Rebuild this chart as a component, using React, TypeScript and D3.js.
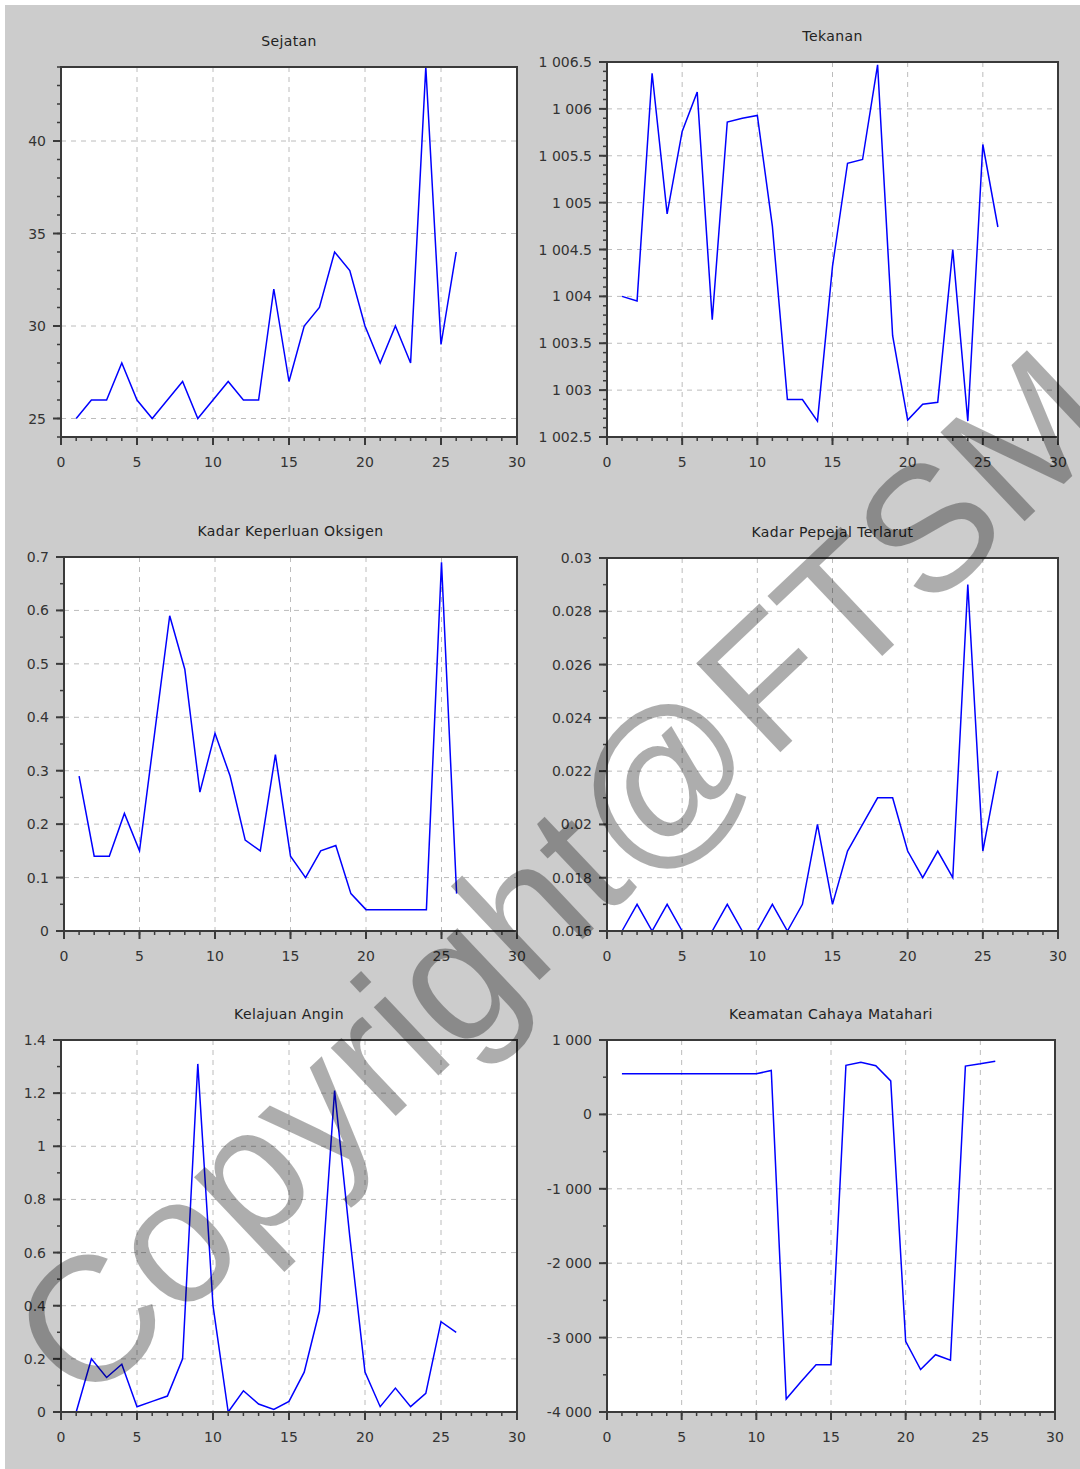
import React, { useRef, useEffect } from "react";
import * as d3 from "d3";

// day index for every series
const hari = [1, 2, 3, 4, 5, 6, 7, 8, 9, 10, 11, 12, 13, 14, 15, 16, 17, 18, 19, 20, 21, 22, 23, 24, 25, 26];

const sejatan = [25, 26, 26, 28, 26, 25, 26, 27, 25, 26, 27, 26, 26, 32, 27, 30, 31, 34, 33, 30, 28, 30, 28, 44, 29, 34];
const tekanan = [
  1004.0, 1003.95, 1006.38, 1004.88, 1005.76, 1006.18, 1003.75, 1005.86, 1005.9, 1005.93, 1004.75, 1002.9, 1002.9,
  1002.67, 1004.32, 1005.42, 1005.46, 1006.47, 1003.58, 1002.68, 1002.85, 1002.87, 1004.5, 1002.67, 1005.62, 1004.74,
];
const oksigen = [
  0.29, 0.14, 0.14, 0.22, 0.15, 0.37, 0.59, 0.49, 0.26, 0.37, 0.29, 0.17, 0.15, 0.33, 0.14, 0.1, 0.15, 0.16, 0.07, 0.04,
  0.04, 0.04, 0.04, 0.04, 0.69, 0.07,
];
const pepejal = [
  0.016, 0.017, 0.016, 0.017, 0.016, 0.016, 0.016, 0.017, 0.016, 0.016, 0.017, 0.016, 0.017, 0.02, 0.017, 0.019, 0.02,
  0.021, 0.021, 0.019, 0.018, 0.019, 0.018, 0.029, 0.019, 0.022,
];
const angin = [
  0, 0.2, 0.13, 0.18, 0.02, 0.04, 0.06, 0.2, 1.31, 0.4, 0, 0.08, 0.03, 0.01, 0.04, 0.15, 0.38, 1.21, 0.66, 0.15, 0.02,
  0.09, 0.02, 0.07, 0.34, 0.3,
];
const cahaya = [
  545, 545, 545, 545, 545, 545, 545, 545, 545, 545, 590, -3825, -3590, -3365, -3365, 660, 700, 655, 450, -3050, -3430,
  -3230, -3305, 650, 680, 715,
];

// tick values and their labels
const xTicks = [0, 5, 10, 15, 20, 25, 30];
const xLabels = ["0", "5", "10", "15", "20", "25", "30"];
const sejatanTicks = [25, 30, 35, 40];
const sejatanLabels = ["25", "30", "35", "40"];
const tekananTicks = [1002.5, 1003, 1003.5, 1004, 1004.5, 1005, 1005.5, 1006, 1006.5];
const tekananLabels = ["1 002.5", "1 003", "1 003.5", "1 004", "1 004.5", "1 005", "1 005.5", "1 006", "1 006.5"];
const oksigenTicks = [0, 0.1, 0.2, 0.3, 0.4, 0.5, 0.6, 0.7];
const oksigenLabels = ["0", "0.1", "0.2", "0.3", "0.4", "0.5", "0.6", "0.7"];
const pepejalTicks = [0.016, 0.018, 0.02, 0.022, 0.024, 0.026, 0.028, 0.03];
const pepejalLabels = ["0.016", "0.018", "0.02", "0.022", "0.024", "0.026", "0.028", "0.03"];
const anginTicks = [0, 0.2, 0.4, 0.6, 0.8, 1, 1.2, 1.4];
const anginLabels = ["0", "0.2", "0.4", "0.6", "0.8", "1", "1.2", "1.4"];
const cahayaTicks = [-4000, -3000, -2000, -1000, 0, 1000];
const cahayaLabels = ["-4 000", "-3 000", "-2 000", "-1 000", "0", "1 000"];

const W = 1080;
const H = 1469;

const panels = [
  { title: "Sejatan", values: sejatan, yDomain: [24, 44], ticks: sejatanTicks, labels: sejatanLabels, minor: 1, box: { l: 61, r: 517, t: 67, b: 437 }, titleY: 41 },
  { title: "Tekanan", values: tekanan, yDomain: [1002.5, 1006.5], ticks: tekananTicks, labels: tekananLabels, minor: 0.1, box: { l: 607, r: 1058, t: 62, b: 437 }, titleY: 36 },
  { title: "Kadar Keperluan Oksigen", values: oksigen, yDomain: [0, 0.7], ticks: oksigenTicks, labels: oksigenLabels, minor: 0.05, box: { l: 64, r: 517, t: 557, b: 931 }, titleY: 531 },
  { title: "Kadar Pepejal Terlarut", values: pepejal, yDomain: [0.016, 0.03], ticks: pepejalTicks, labels: pepejalLabels, minor: 0.001, box: { l: 607, r: 1058, t: 558, b: 931 }, titleY: 532 },
  { title: "Kelajuan Angin", values: angin, yDomain: [0, 1.4], ticks: anginTicks, labels: anginLabels, minor: 0.1, box: { l: 61, r: 517, t: 1040, b: 1412 }, titleY: 1014 },
  { title: "Keamatan Cahaya Matahari", values: cahaya, yDomain: [-4000, 1000], ticks: cahayaTicks, labels: cahayaLabels, minor: 500, box: { l: 607, r: 1055, t: 1040, b: 1412 }, titleY: 1014 },
];

const AXIS = "#3a3a3a";
const FONT = "'DejaVu Sans', Verdana, sans-serif";

const steps = (d0: number, d1: number, step: number) => {
  const n = Math.round((d1 - d0) / step);
  return d3.range(n + 1).map((i) => d0 + i * step);
};

const App: React.FC = () => {
  const ref = useRef<SVGSVGElement>(null);

  useEffect(() => {
    if (!ref.current) return;
    const svg = d3.select(ref.current);
    svg.selectAll("*").remove();

    svg.append("rect").attr("width", W).attr("height", H).attr("fill", "#ffffff");
    svg.append("rect").attr("x", 5).attr("y", 5).attr("width", W - 5).attr("height", H - 5).attr("fill", "#cccccc");

    panels.forEach((p, idx) => {
      const { l, r, t, b } = p.box;
      const x = d3.scaleLinear().domain([0, 30]).range([l, r]);
      const y = d3.scaleLinear().domain(p.yDomain).range([b, t]);
      const g = svg.append("g");

      g.append("rect").attr("x", l).attr("y", t).attr("width", r - l).attr("height", b - t).attr("fill", "#ffffff");

      // dashed grid on the major ticks
      g.selectAll(".gx")
        .data(xTicks.filter((v) => v > 0 && v < 30))
        .enter()
        .append("line")
        .attr("x1", (d) => x(d))
        .attr("x2", (d) => x(d))
        .attr("y1", t)
        .attr("y2", b)
        .attr("stroke", "#bcbcbc")
        .attr("stroke-dasharray", "5,5");
      g.selectAll(".gy")
        .data(p.ticks.filter((v) => v > p.yDomain[0] + 1e-9 && v < p.yDomain[1] - 1e-9))
        .enter()
        .append("line")
        .attr("x1", l)
        .attr("x2", r)
        .attr("y1", (d) => y(d))
        .attr("y2", (d) => y(d))
        .attr("stroke", "#bcbcbc")
        .attr("stroke-dasharray", "5,5");

      // data line
      const clipId = `clip${idx}`;
      g.append("clipPath").attr("id", clipId).append("rect").attr("x", l).attr("y", t - 1).attr("width", r - l).attr("height", b - t + 2);
      const line = d3
        .line<number>()
        .x((_, i) => x(hari[i]))
        .y((d) => y(d));
      g.append("path")
        .datum(p.values)
        .attr("d", line)
        .attr("fill", "none")
        .attr("stroke", "#0000ff")
        .attr("stroke-width", 1.5)
        .attr("clip-path", `url(#${clipId})`);

      // minor ticks
      steps(0, 30, 1).forEach((v) => {
        g.append("line").attr("x1", x(v)).attr("x2", x(v)).attr("y1", b).attr("y2", b + 4).attr("stroke", AXIS).attr("stroke-width", 1.5);
      });
      steps(p.yDomain[0], p.yDomain[1], p.minor).forEach((v) => {
        g.append("line").attr("x1", l - 4).attr("x2", l).attr("y1", y(v)).attr("y2", y(v)).attr("stroke", AXIS).attr("stroke-width", 1.5);
      });

      // major ticks + labels
      xTicks.forEach((v, i) => {
        g.append("line").attr("x1", x(v)).attr("x2", x(v)).attr("y1", b).attr("y2", b + 8).attr("stroke", AXIS).attr("stroke-width", 2);
        g.append("text")
          .attr("x", x(v))
          .attr("y", b + 25)
          .attr("text-anchor", "middle")
          .attr("dominant-baseline", "central")
          .attr("font-family", FONT)
          .attr("font-size", 14)
          .attr("fill", "#333")
          .text(xLabels[i]);
      });
      p.ticks.forEach((v, i) => {
        g.append("line").attr("x1", l - 8).attr("x2", l).attr("y1", y(v)).attr("y2", y(v)).attr("stroke", AXIS).attr("stroke-width", 2);
        g.append("text")
          .attr("x", l - 15)
          .attr("y", y(v))
          .attr("text-anchor", "end")
          .attr("dominant-baseline", "central")
          .attr("font-family", FONT)
          .attr("font-size", 14)
          .attr("fill", "#333")
          .text(p.labels[i]);
      });

      // frame
      g.append("rect")
        .attr("x", l)
        .attr("y", t)
        .attr("width", r - l)
        .attr("height", b - t)
        .attr("fill", "none")
        .attr("stroke", AXIS)
        .attr("stroke-width", 2);

      g.append("text")
        .attr("x", (l + r) / 2)
        .attr("y", p.titleY)
        .attr("text-anchor", "middle")
        .attr("dominant-baseline", "central")
        .attr("font-family", FONT)
        .attr("font-size", 14)
        .attr("letter-spacing", 0.4)
        .attr("fill", "#222")
        .text(p.title);
    });

    // watermark
    svg.append("text")
      .attr("x", 561)
      .attr("y", 875)
      .attr("transform", "rotate(-43.4, 561, 875)")
      .attr("text-anchor", "middle")
      .attr("dominant-baseline", "central")
      .attr("font-family", "'Liberation Sans', Arial, sans-serif")
      .attr("font-size", 178)
      .attr("fill", "#000")
      .attr("fill-opacity", 0.32)
      .text("Copyright@FTSM");
  }, []);

  return (
    <div>
      <style>{`body { margin: 0; }`}</style>
      <svg ref={ref} width={W} height={H} style={{ display: "block" }}></svg>
    </div>
  );
};

export default App;
